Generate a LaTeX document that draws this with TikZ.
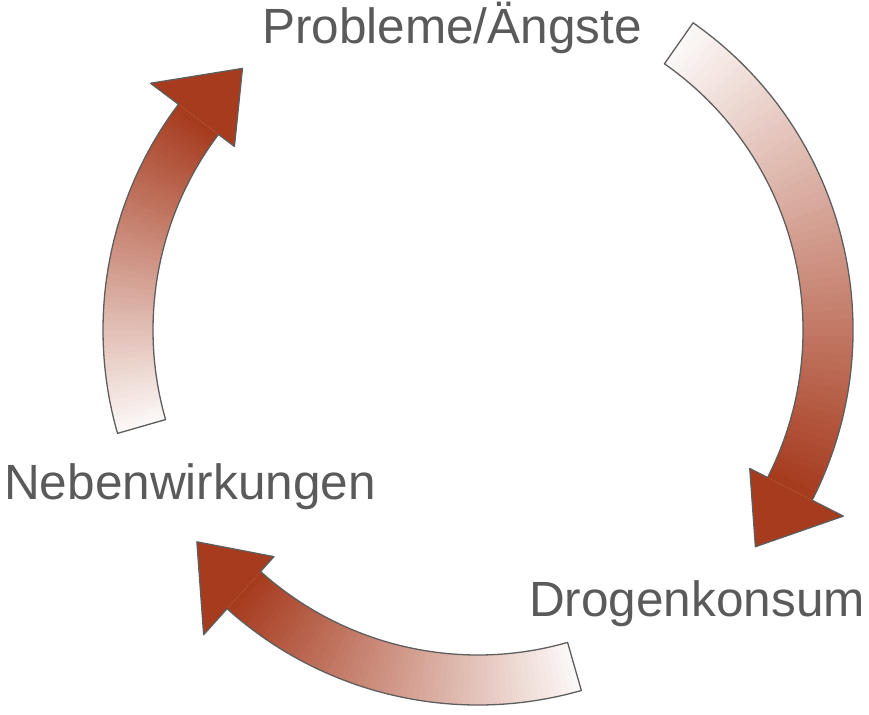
\documentclass[tikz,border=0pt]{standalone}
\usepackage{fontspec}
\setmainfont{Liberation Sans}
\definecolor{rust}{HTML}{A63B1E}
\definecolor{edge}{HTML}{5E5E5E}
\definecolor{txt}{HTML}{5A5A5A}
\newcommand{\garrow}[2]{%
  \foreach \i in {0,...,59} {
    \pgfmathsetmacro\s{#1+(#2-#1)*\i/60}
    \pgfmathsetmacro\e{min(#1+(#2-#1)*(\i+1.4)/60,#2)}
    \pgfmathsetmacro\p{4+96*\i/59}
    \fill[rust!\p!white] (\s:325) arc[start angle=\s,end angle=\e,radius=325] -- (\e:375) arc[start angle=\e,end angle=\s,radius=375] -- cycle;
  }
  \pgfmathsetmacro\t{#2+11}
  \fill[rust] (#2:305) -- (\t:352) -- (#2:410) -- cycle;
  \draw[edge,line width=1.3pt,line join=round] (#1:325) arc[start angle=#1,end angle=#2,radius=325] -- (#2:305) -- (\t:352) -- (#2:410) -- (#2:375) arc[start angle=#2,end angle=#1,radius=375] -- cycle;
}
\begin{document}
\begin{tikzpicture}[x=1pt,y=-1pt,lab/.style={text=txt,font=\fontsize{49.5}{54}\selectfont,inner sep=0pt}]
\useasboundingbox (0,0) rectangle (869,714);
\begin{scope}[shift={(478,330)}]
\garrow{-55}{27}
\garrow{74}{132}
\garrow{164}{217}
\end{scope}
\node[lab] (p) at (452,28) {Probleme/Ängste};
\node[lab] (n) at (190,487) {Nebenwirkungen};
\node[lab] (d) at (697,604) {Drogenkonsum};
\end{tikzpicture}
\end{document}
